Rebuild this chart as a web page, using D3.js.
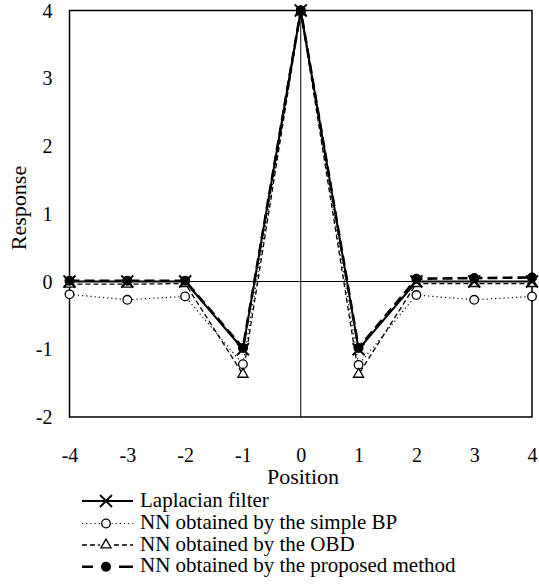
<!DOCTYPE html>
<html>
<head>
<meta charset="utf-8">
<script src="https://cdn.jsdelivr.net/npm/d3@7"></script>
<style>
html,body{margin:0;padding:0;background:#fff;}
svg{display:block;}
</style>
</head>
<body>
<svg id="chart" width="539" height="584" font-family="Liberation Serif"></svg>
<script>
// ---- data ----
const positions = [-4, -3, -2, -1, 0, 1, 2, 3, 4];
const laplacian = [0, 0, 0, -1, 4, -1, 0, 0, 0];
const simpleBP  = [-0.19, -0.27, -0.22, -1.22, 4.0, -1.23, -0.20, -0.27, -0.22];
const obd       = [-0.04, -0.04, -0.03, -1.37, 3.98, -1.37, -0.03, -0.03, -0.03];
const proposed  = [0.01, 0.01, 0.01, -0.98, 4.0, -0.98, 0.04, 0.05, 0.06];
const xTicks = [-4, -3, -2, -1, 0, 1, 2, 3, 4];
const yTicks = [-2, -1, 0, 1, 2, 3, 4];
const seriesNames = ["Laplacian filter", "NN obtained by the simple BP", "NN obtained by the OBD", "NN obtained by the proposed method"];

const FONT = "Liberation Serif";
const svg = d3.select("#chart");
const x = d3.scaleLinear().domain([-4, 4]).range([69.5, 532]);
const y = d3.scaleLinear().domain([-2, 4]).range([417, 10.5]);

// frame
svg.append("rect").attr("x", x(-4)).attr("y", y(4))
  .attr("width", x(4) - x(-4)).attr("height", y(-2) - y(4))
  .attr("fill", "none").attr("stroke", "#000").attr("stroke-width", 1.5);
// zero lines
svg.append("line").attr("x1", x(-4)).attr("x2", x(4)).attr("y1", y(0)).attr("y2", y(0))
  .attr("stroke", "#000").attr("stroke-width", 1);
svg.append("line").attr("x1", x(0)).attr("x2", x(0)).attr("y1", y(4)).attr("y2", y(-2))
  .attr("stroke", "#000").attr("stroke-width", 1);

const fmt = d => d < 0 ? "-" + Math.abs(d) : String(d);

// axes (labels only)
const xAxis = d3.axisBottom(x).tickValues(xTicks).tickSize(0).tickPadding(0).tickFormat(fmt);
const gx = svg.append("g").attr("transform", `translate(0,${y(-2)})`).call(xAxis)
  .attr("font-family", FONT).attr("font-size", 20);
gx.select(".domain").remove();
gx.selectAll("text").attr("dy", null).attr("y", 44.5).attr("fill", "#000");

const yAxis = d3.axisLeft(y).tickValues(yTicks).tickSize(0).tickPadding(0).tickFormat(fmt);
const gy = svg.append("g").attr("transform", `translate(${x(-4)},0)`).call(yAxis)
  .attr("font-family", FONT).attr("font-size", 20);
gy.select(".domain").remove();
gy.selectAll("text").attr("x", -17).attr("dy", "0.33em").attr("fill", "#000");

svg.append("text").attr("x", 303).attr("y", 483.5).attr("text-anchor", "middle")
  .attr("font-family", FONT).attr("font-size", 22).text("Position");
svg.append("text").attr("transform", "translate(26,208) rotate(-90)").attr("text-anchor", "middle")
  .attr("font-family", FONT).attr("font-size", 22).text("Response");

// series
const series = [
  {vals: laplacian, dash: null, width: 2, marker: "x"},
  {vals: simpleBP, dash: "1.2,3", width: 1.2, marker: "circle"},
  {vals: obd, dash: "5,3", width: 1.3, marker: "triangle"},
  {vals: proposed, dash: "10,5", width: 2.6, marker: "dot"}
];
const line = d3.line().x((d, i) => x(positions[i])).y(d => y(d));

function drawMarker(g, type, cx, cy) {
  if (type === "x") {
    const s = 6;
    g.append("path").attr("d", `M${cx-s},${cy-s}L${cx+s},${cy+s}M${cx-s},${cy+s}L${cx+s},${cy-s}`)
      .attr("stroke", "#000").attr("stroke-width", 1.8).attr("fill", "none");
  } else if (type === "circle") {
    g.append("circle").attr("cx", cx).attr("cy", cy).attr("r", 4.3)
      .attr("fill", "#fff").attr("stroke", "#000").attr("stroke-width", 1.3);
  } else if (type === "triangle") {
    g.append("path").attr("d", d3.symbol().type(d3.symbolTriangle).size(45)())
      .attr("transform", `translate(${cx},${cy})`)
      .attr("fill", "#fff").attr("stroke", "#000").attr("stroke-width", 1.3);
  } else {
    g.append("circle").attr("cx", cx).attr("cy", cy).attr("r", 5)
      .attr("fill", "#000").attr("stroke", "none");
  }
}

const order = [1, 2, 3, 0];
order.forEach(k => {
  const s = series[k];
  svg.append("path").datum(s.vals).attr("d", line)
    .attr("fill", "none").attr("stroke", "#000").attr("stroke-width", s.width)
    .attr("stroke-dasharray", s.dash);
});
order.forEach(k => {
  const s = series[k];
  const g = svg.append("g");
  s.vals.forEach((v, i) => drawMarker(g, s.marker, x(positions[i]), y(v)));
});

// legend
const legendLineY = [501, 523.5, 545, 566.7];
const legendTextY = [506.7, 529, 550.7, 571.7];
series.forEach((s, k) => {
  const g = svg.append("g");
  const ly = legendLineY[k];
  g.append("line").attr("x1", 82).attr("x2", 133).attr("y1", ly).attr("y2", ly)
    .attr("stroke", "#000").attr("stroke-width", s.width)
    .attr("stroke-dasharray", s.marker === "dot" ? "11,26,14" : s.dash);
  if (s.marker === "circle") {
    g.append("circle").attr("cx", 106).attr("cy", ly).attr("r", 5.5).attr("fill", "#fff");
  } else if (s.marker === "triangle") {
    g.append("rect").attr("x", 100).attr("y", ly - 6).attr("width", 12).attr("height", 12).attr("fill", "#fff");
  }
  drawMarker(g, s.marker, 106, ly);
  g.append("text").attr("x", 140).attr("y", legendTextY[k])
    .attr("font-family", FONT).attr("font-size", 21).attr("fill", "#000").text(seriesNames[k]);
});
</script>
</body>
</html>
